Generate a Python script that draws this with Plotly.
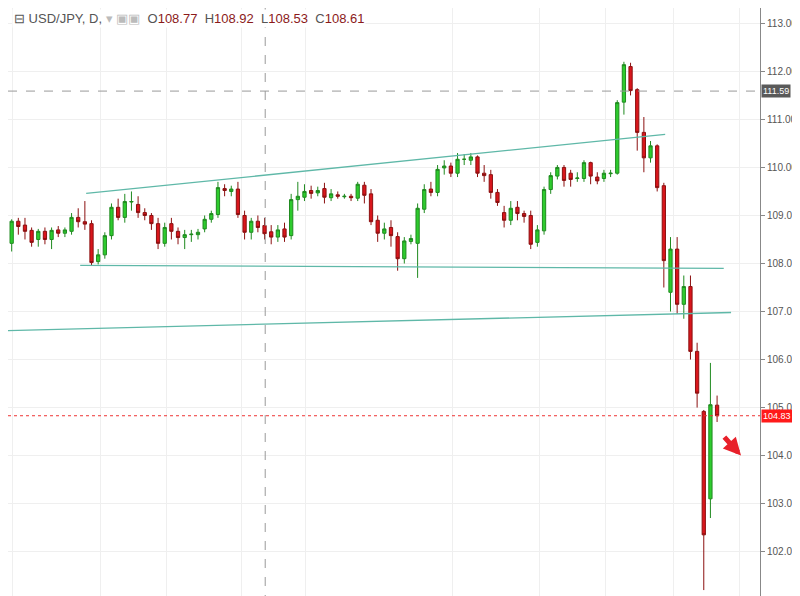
import plotly.graph_objects as go

# daily USD/JPY candles, index 0..107
opens = [108.35, 108.42, 108.88, 108.80, 108.69, 108.50, 108.67, 108.50, 108.70, 108.63,
         108.67, 108.96, 108.87, 108.83, 108.04, 108.18, 108.58, 109.17, 108.96, 109.28,
         109.23, 109.06, 109.00, 108.83, 108.42, 108.83, 108.67, 108.54, 108.60, 108.60,
         108.72, 108.92, 109.02, 109.56, 109.50, 109.55, 109.00, 108.65, 108.88, 108.79,
         108.66, 108.55, 108.72, 108.58, 109.33, 109.38, 109.52, 109.47, 109.56, 109.37,
         109.43, 109.39, 109.40, 109.36, 109.63, 109.45, 108.90, 108.63, 108.75, 108.56,
         108.10, 108.46, 108.42, 109.13, 109.55, 109.48, 109.99, 110.03, 109.88, 110.17,
         110.15, 110.22, 109.88, 109.85, 109.48, 109.06, 108.90, 109.17, 109.04, 109.00,
         108.44, 108.68, 109.54, 109.82, 110.00, 109.88, 109.77, 109.77, 110.10, 109.80,
         109.77, 109.87, 109.88, 111.36, 112.10, 111.62, 110.73, 110.20, 110.45, 109.62,
         107.40, 108.30, 107.15, 107.52, 106.17, 104.92, 103.10, 105.05]
closes = [108.37, 108.88, 108.77, 108.67, 108.44, 108.67, 108.50, 108.69, 108.63, 108.70,
          108.96, 108.87, 108.82, 108.02, 108.18, 108.58, 109.17, 108.96, 109.29, 109.29,
          109.06, 109.00, 108.83, 108.42, 108.75, 108.67, 108.54, 108.60, 108.61, 108.65,
          108.92, 109.04, 109.58, 109.52, 109.55, 109.02, 108.65, 108.88, 108.75, 108.62,
          108.55, 108.70, 108.55, 109.33, 109.40, 109.50, 109.46, 109.52, 109.38, 109.45,
          109.40, 109.40, 109.37, 109.65, 109.42, 108.87, 108.63, 108.72, 108.58, 108.10,
          108.47, 108.52, 109.15, 109.54, 109.48, 109.96, 110.03, 109.88, 110.17, 110.17,
          110.22, 109.88, 109.83, 109.48, 109.27, 108.90, 109.15, 109.04, 108.98, 108.40,
          108.70, 109.54, 109.83, 110.00, 109.73, 109.75, 109.78, 110.10, 109.82, 109.72,
          109.88, 109.88, 111.35, 112.14, 111.60, 110.73, 110.20, 110.45, 109.58, 108.06,
          108.30, 107.15, 107.52, 106.17, 105.30, 102.35, 105.06, 104.83]
highs = [108.60, 108.92, 108.95, 108.95, 108.75, 108.72, 108.75, 108.75, 108.78, 108.75,
         109.05, 109.15, 109.30, 108.90, 108.30, 108.65, 109.25, 109.35, 109.45, 109.50,
         109.40, 109.15, 109.05, 108.95, 108.85, 108.95, 108.75, 108.70, 108.70, 108.72,
         109.00, 109.10, 109.70, 109.65, 109.62, 109.70, 109.10, 108.95, 109.00, 108.95,
         108.80, 108.80, 108.85, 109.45, 109.70, 109.65, 109.62, 109.60, 109.68, 109.55,
         109.50, 109.45, 109.45, 109.70, 109.70, 109.55, 109.00, 108.85, 108.90, 108.65,
         108.55, 108.60, 109.25, 109.65, 109.70, 110.05, 110.15, 110.10, 110.30, 110.28,
         110.30, 110.25, 110.05, 109.95, 109.55, 109.20, 109.30, 109.30, 109.10, 109.10,
         108.80, 109.60, 109.90, 110.05, 110.05, 109.95, 109.90, 110.15, 110.12, 109.90,
         109.95, 109.95, 111.40, 112.20, 112.18, 111.65, 111.05, 110.55, 110.48, 109.68,
         108.55, 108.55, 107.75, 107.75, 106.35, 104.95, 105.93, 105.25]
lows = [108.10, 108.25, 108.60, 108.50, 108.35, 108.35, 108.40, 108.30, 108.55, 108.55,
        108.60, 108.75, 108.70, 107.95, 107.98, 108.10, 108.50, 108.90, 108.85, 109.10,
        108.95, 108.90, 108.70, 108.30, 108.35, 108.50, 108.40, 108.30, 108.45, 108.50,
        108.65, 108.85, 108.95, 109.40, 109.40, 108.95, 108.50, 108.50, 108.65, 108.50,
        108.40, 108.45, 108.45, 108.50, 109.10, 109.30, 109.35, 109.40, 109.25, 109.30,
        109.35, 109.35, 109.30, 109.30, 109.25, 108.80, 108.45, 108.50, 108.35, 107.85,
        108.00, 108.40, 107.70, 109.05, 109.40, 109.40, 109.85, 109.80, 109.80, 110.05,
        110.05, 109.80, 109.70, 109.35, 109.20, 108.75, 108.80, 108.90, 108.85, 108.30,
        108.35, 108.60, 109.45, 109.75, 109.60, 109.60, 109.70, 109.70, 109.65, 109.65,
        109.70, 109.80, 109.85, 111.10, 111.50, 110.35, 109.90, 110.10, 109.50, 107.50,
        107.00, 106.95, 106.85, 106.00, 105.00, 101.20, 102.70, 104.70]
idx = list(range(len(closes)))

# drawn lines: (x0, y0, x1, y1) in bar index / price
trend_upper = (12.2, 109.46, 99.2, 110.69)
support = (11.3, 107.96, 108.0, 107.90)
trend_lower = (-0.6, 106.60, 109.1, 106.98)
grid_idx = [1.2, 14.3, 24.2, 35.5, 45.2, 67.3, 80.3, 90.3, 100.4, 110.3]
y_ticks = [102, 103, 104, 105, 106, 107, 108, 109, 110, 111, 112, 113]
high_mark = 111.59
last_price = 104.83
cursor_idx = 39.1

fig = go.Figure()
fig.add_trace(go.Candlestick(
    x=idx, open=opens, high=highs, low=lows, close=closes,
    increasing=dict(line=dict(color="#1f8a1f", width=1), fillcolor="#2ecc2e"),
    decreasing=dict(line=dict(color="#8b1010", width=1), fillcolor="#d9161c"),
    whiskerwidth=0, showlegend=False))

for x0, y0, x1, y1 in [trend_upper, support, trend_lower]:
    fig.add_trace(go.Scatter(x=[x0, x1], y=[y0, y1], mode="lines",
                             line=dict(color="#5fb8a8", width=1.3),
                             showlegend=False, hoverinfo="skip"))

fig.add_hline(y=high_mark, line=dict(color="#9a9a9a", width=1, dash="dash"))
fig.add_hline(y=last_price, line=dict(color="#ee3333", width=1, dash="dot"))
fig.add_vline(x=cursor_idx, line=dict(color="#9a9a9a", width=1, dash="dash"))

for val, col in [(high_mark, "#5a5a5a"), (last_price, "#ff1a1a")]:
    fig.add_annotation(x=1, xref="paper", xanchor="left", xshift=1, y=val, text=f"{val:.2f}",
                       showarrow=False, bgcolor=col, borderpad=1,
                       font=dict(color="white", size=9, family="Arial"))
fig.add_annotation(x=110.6, y=104.0, ax=-18, ay=-20, showarrow=True, arrowhead=2,
                   arrowsize=0.7, arrowwidth=5, arrowcolor="#e8202a", text="")
fig.add_annotation(x=0.005, y=0.998, xref="paper", yref="paper", xanchor="left",
                   yanchor="top", showarrow=False, bgcolor="white",
                   text="⊟ USD/JPY, D, <span style='color:#bbb'>▾ ▣▣</span>  "
                        "O<span style='color:#8b1a1a'>108.77</span>  "
                        "H<span style='color:#8b1a1a'>108.92</span>  "
                        "L<span style='color:#8b1a1a'>108.53</span>  "
                        "C<span style='color:#8b1a1a'>108.61</span>",
                   font=dict(size=13, color="#555", family="Arial"))

fig.update_layout(
    width=800, height=596, margin=dict(l=0, r=48, t=0, b=0),
    plot_bgcolor="white", paper_bgcolor="white",
    xaxis=dict(range=[0.45, 113.45], rangeslider=dict(visible=False), tickvals=grid_idx,
               showticklabels=False, showgrid=True, gridcolor="#efefef", zeroline=False),
    yaxis=dict(range=[100.91, 113.32], side="right", tickvals=y_ticks,
               tickformat=".2f", showgrid=True, gridcolor="#efefef",
               showline=True, linecolor="#888", ticks="outside", ticklen=4,
               tickcolor="#888", tickfont=dict(size=10, color="#555", family="Arial"),
               zeroline=False),
    hovermode=False)

fig.write_html("out.html")
